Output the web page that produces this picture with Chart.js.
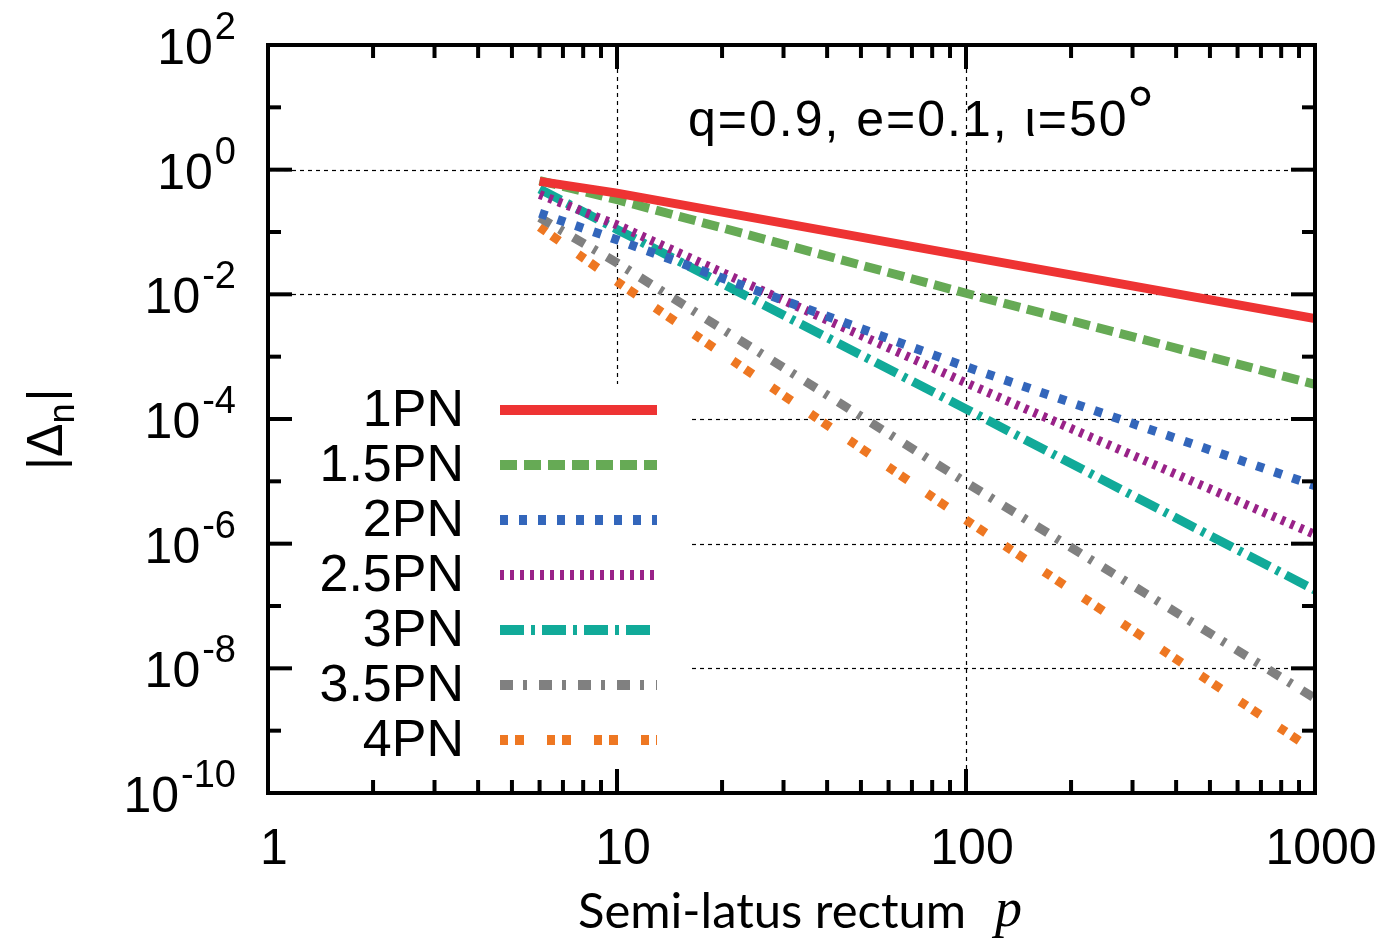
<!DOCTYPE html>
<html>
<head>
<meta charset="utf-8">
<script src="https://cdn.jsdelivr.net/npm/chart.js@4"></script>
<style>
  body { margin: 0; background: #fff; }
  canvas { display: block; }
</style>
</head>
<body>
<canvas id="myChart" width="1393" height="939"></canvas>
<script>
// semi-latus rectum values where the curves were read
const pValues = [6, 10, 100, 1000];

const labels = ["1PN", "1.5PN", "2PN", "2.5PN", "3PN", "3.5PN", "4PN"];
const pn1  = [0.65, 0.42, 0.041, 4.1e-3];
const pn15 = [0.67, 0.33, 0.0104, 3.6e-4];
const pn2  = [0.20, 0.075, 6.9e-4, 8.5e-6];
const pn25 = [0.40, 0.13, 3.8e-4, 1.4e-6];
const pn3  = [0.49, 0.11, 1.45e-4, 1.8e-7];
const pn35 = [0.17, 0.032, 9.6e-6, 3.3e-9];
const pn4  = [0.12, 0.016, 2.4e-6, 4.7e-10];

const xTicks = [1, 10, 100, 1000];
const yTickExps = [2, 0, -2, -4, -6, -8, -10];

const colors = ["#ee3333", "#66aa55", "#3366bb", "#992288", "#11aa99", "#808080", "#ee7722"];
const dashes = [[], [17, 7], [8, 11], [4, 6], [24, 7, 4, 7], [13, 10, 4, 12], [8, 7, 9, 23]];
const series = [pn1, pn15, pn2, pn25, pn3, pn35, pn4];

const FONT = "'Liberation Sans', Arial, sans-serif";

const datasets = series.map((vals, i) => ({
  label: labels[i],
  data: vals.map((v, j) => ({ x: pValues[j], y: v })),
  borderColor: colors[i],
  borderWidth: 9,
  borderDash: dashes[i],
  borderCapStyle: "butt",
  pointRadius: 0,
  fill: false,
  tension: 0,
}));

const decor = {
  id: "decor",
  beforeDatasetsDraw(chart) {
    const { ctx, chartArea: a, scales: { x, y } } = chart;
    ctx.save();
    ctx.strokeStyle = "#000";
    ctx.lineWidth = 1.2;
    ctx.setLineDash([4, 4]);
    [10, 100].forEach((v) => {
      const px = Math.round(x.getPixelForValue(v)) + 0.5;
      ctx.beginPath(); ctx.moveTo(px, a.top); ctx.lineTo(px, a.bottom); ctx.stroke();
    });
    [0, -2, -4, -6, -8].forEach((e) => {
      const py = Math.round(y.getPixelForValue(Math.pow(10, e))) + 0.5;
      ctx.beginPath(); ctx.moveTo(a.left, py); ctx.lineTo(a.right, py); ctx.stroke();
    });
    ctx.setLineDash([]);
    // legend box hides the grid
    ctx.fillStyle = "#fff";
    ctx.fillRect(a.left, 384, 690 - a.left, a.bottom - 384);
    ctx.restore();
  },
  afterDraw(chart) {
    const { ctx, chartArea: a, scales: { x, y } } = chart;
    ctx.save();
    ctx.strokeStyle = "#000";
    ctx.fillStyle = "#000";

    // minor + major ticks on x (top and bottom)
    ctx.lineWidth = 4;
    for (let d = 1; d < 1000; d *= 10) {
      for (let m = 1; m <= 10; m++) {
        const v = d * m;
        if (v > 1000) break;
        const px = x.getPixelForValue(v);
        const len = (m === 1 || m === 10) ? 24 : 13;
        ctx.beginPath(); ctx.moveTo(px, a.bottom); ctx.lineTo(px, a.bottom - len); ctx.stroke();
        ctx.beginPath(); ctx.moveTo(px, a.top); ctx.lineTo(px, a.top + len); ctx.stroke();
      }
    }
    // y ticks every decade, longer on labelled ones
    for (let e = -10; e <= 2; e++) {
      const py = y.getPixelForValue(Math.pow(10, e));
      const len = (e % 2 === 0) ? 24 : 13;
      ctx.beginPath(); ctx.moveTo(a.left, py); ctx.lineTo(a.left + len, py); ctx.stroke();
      ctx.beginPath(); ctx.moveTo(a.right, py); ctx.lineTo(a.right - len, py); ctx.stroke();
    }
    // frame
    ctx.lineWidth = 4;
    ctx.strokeRect(a.left, a.top, a.right - a.left, a.bottom - a.top);

    // x tick labels
    ctx.font = "50px " + FONT;
    ctx.textAlign = "center";
    ctx.textBaseline = "alphabetic";
    xTicks.forEach((v) => {
      ctx.fillText(String(v), x.getPixelForValue(v) + 6, 864);
    });

    // y tick labels 10^n
    yTickExps.forEach((e) => {
      const py = y.getPixelForValue(Math.pow(10, e));
      const sup = String(e);
      ctx.font = "38px " + FONT;
      ctx.textAlign = "right";
      const sw = ctx.measureText(sup).width;
      ctx.fillText(sup, 236, py - 6);
      ctx.font = "50px " + FONT;
      ctx.fillText("10", 236 - sw - 2, py + 19);
    });

    // x axis title
    ctx.textAlign = "left";
    ctx.font = "49px Lato, 'Open Sans', sans-serif";
    ctx.fillText("Semi-latus rectum", 578, 928);
    ctx.font = "italic 54px 'Liberation Serif', serif";
    ctx.fillText("p", 995, 926);

    // y axis title |Δn|
    ctx.save();
    ctx.translate(62, 470);
    ctx.rotate(-Math.PI / 2);
    ctx.font = "50px " + FONT;
    ctx.textAlign = "left";
    let cx = 0;
    ctx.fillText("|Δ", cx, 0);
    cx += ctx.measureText("|Δ").width;
    ctx.font = "36px " + FONT;
    ctx.fillText("n", cx, 12);
    cx += ctx.measureText("n").width + 2;
    ctx.font = "50px " + FONT;
    ctx.fillText("|", cx, 0);
    ctx.restore();

    // annotation
    const note = "q=0.9, e=0.1, \u03b9=50";
    ctx.font = "50px " + FONT;
    ctx.letterSpacing = "2px";
    ctx.textAlign = "left";
    ctx.fillText(note, 688, 136);
    const aw = ctx.measureText(note).width;
    ctx.letterSpacing = "0px";
    ctx.font = "70px " + FONT;
    ctx.fillText("\u00b0", 688 + aw - 2, 136);

    // legend
    labels.forEach((lab, i) => {
      const ly = 410 + i * 55;
      ctx.font = "52px " + FONT;
      ctx.textAlign = "right";
      ctx.textBaseline = "middle";
      ctx.fillStyle = "#000";
      ctx.fillText(lab, 464, ly + 2);
      ctx.strokeStyle = colors[i];
      ctx.lineWidth = 10;
      ctx.lineCap = "butt";
      ctx.setLineDash(dashes[i]);
      ctx.beginPath(); ctx.moveTo(500, ly); ctx.lineTo(657, ly); ctx.stroke();
      ctx.setLineDash([]);
    });
    ctx.restore();
  },
};

const ctx = document.getElementById("myChart");
const mychart = new Chart(ctx, {
  type: "line",
  data: { datasets },
  options: {
    responsive: false,
    devicePixelRatio: 1,
    animation: false,
    layout: { padding: { left: 268, right: 78, top: 45, bottom: 146 } },
    scales: {
      x: { type: "logarithmic", min: 1, max: 1000, display: false },
      y: { type: "logarithmic", min: 1e-10, max: 100, display: false },
    },
    plugins: {
      legend: { display: false },
      tooltip: { enabled: false },
    },
  },
  plugins: [decor],
});
</script>
</body>
</html>
